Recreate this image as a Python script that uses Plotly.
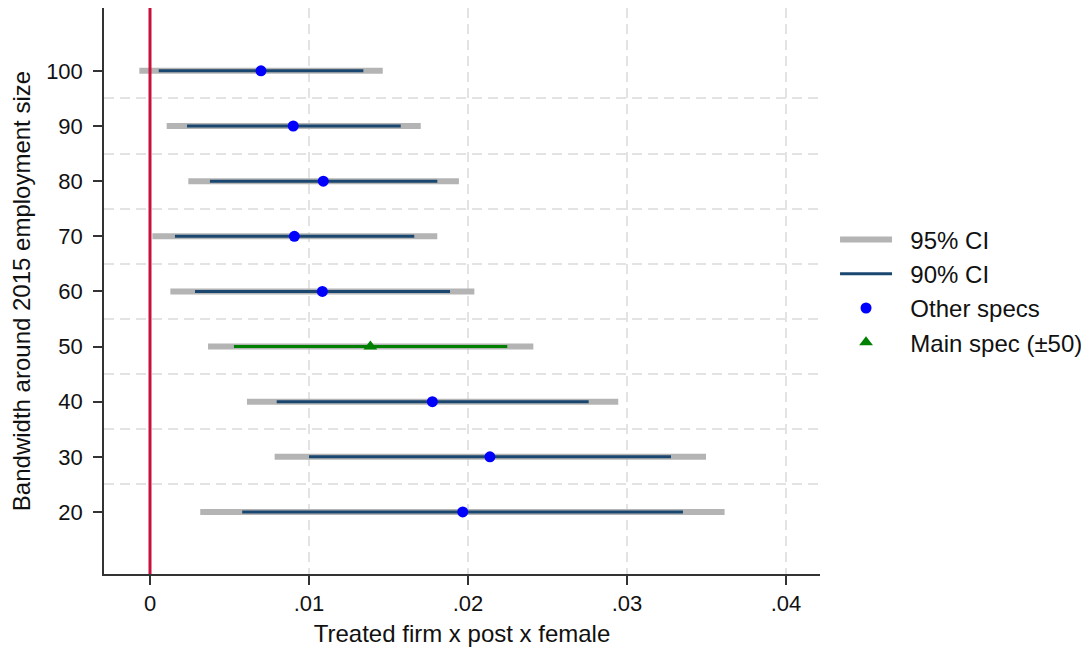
import plotly.graph_objects as go

# ---- data ----
bandwidth = [100, 90, 80, 70, 60, 50, 40, 30, 20]
coef      = [0.00698, 0.00901, 0.01090, 0.00908, 0.01084, 0.01386, 0.01776, 0.02138, 0.01967]
ci95_lo   = [-0.00067, 0.00105, 0.00241, 0.00015, 0.00128, 0.00365, 0.00610, 0.00784, 0.00316]
ci95_hi   = [0.01464, 0.01703, 0.01943, 0.01807, 0.02040, 0.02411, 0.02945, 0.03497, 0.03614]
ci90_lo   = [0.00055, 0.00233, 0.00377, 0.00157, 0.00283, 0.00528, 0.00797, 0.01000, 0.00580]
ci90_hi   = [0.01342, 0.01577, 0.01807, 0.01662, 0.01887, 0.02247, 0.02759, 0.03277, 0.03352]
main_bw = 50

x_ticks = [0, 0.01, 0.02, 0.03, 0.04]
x_ticklabels = ["0", ".01", ".02", ".03", ".04"]
y_ticks = [20, 30, 40, 50, 60, 70, 80, 90, 100]
y_grid = [25, 35, 45, 55, 65, 75, 85, 95]

GRAY = "#b4b4b4"
NAVY = "#1a476f"
GREEN = "#008000"
BLUE = "#0000ff"
RED = "#c8103c"
FONT = "Liberation Sans, Arial, sans-serif"
PAD = "\u00a0\u00a0"


def segs(lo, hi, ys):
    xs, yy = [], []
    for a, b, y in zip(lo, hi, ys):
        xs += [a, b, None]
        yy += [y, y, None]
    return xs, yy


fig = go.Figure()

x95, y95 = segs(ci95_lo, ci95_hi, bandwidth)
fig.add_trace(go.Scatter(x=x95, y=y95, mode="lines", name=PAD + "95% CI",
                         line=dict(color=GRAY, width=6), legendgroup="a"))

oth = [i for i, b in enumerate(bandwidth) if b != main_bw]
mn = [i for i, b in enumerate(bandwidth) if b == main_bw]

x90, y90 = segs([ci90_lo[i] for i in oth], [ci90_hi[i] for i in oth], [bandwidth[i] for i in oth])
fig.add_trace(go.Scatter(x=x90, y=y90, mode="lines", name=PAD + "90% CI",
                         line=dict(color=NAVY, width=3), legendgroup="b"))

x90m, y90m = segs([ci90_lo[i] for i in mn], [ci90_hi[i] for i in mn], [bandwidth[i] for i in mn])
fig.add_trace(go.Scatter(x=x90m, y=y90m, mode="lines", showlegend=False,
                         line=dict(color=GREEN, width=3)))

fig.add_trace(go.Scatter(x=[coef[i] for i in oth], y=[bandwidth[i] for i in oth],
                         mode="markers", name=PAD + "Other specs", legendgroup="c",
                         marker=dict(color=BLUE, size=11, symbol="circle")))
fig.add_trace(go.Scatter(x=[coef[i] for i in mn], y=[bandwidth[i] for i in mn],
                         mode="markers", name=PAD + "Main spec (±50)", legendgroup="d",
                         marker=dict(color=GREEN, size=12, symbol="triangle-up")))

fig.add_shape(type="line", xref="x", yref="paper", x0=0, x1=0, y0=0, y1=1,
              line=dict(color=RED, width=3), layer="above")

fig.update_layout(
    width=1089, height=650,
    margin=dict(l=96, r=277, t=0, b=84, autoexpand=False),
    paper_bgcolor="white", plot_bgcolor="white",
    font=dict(family=FONT, size=22, color="#111111"),
    showlegend=True,
    legend=dict(x=1.021, y=0.5, xanchor="left", yanchor="middle",
                font=dict(size=24, family=FONT, color="#111111"),
                itemwidth=52, tracegroupgap=0, bgcolor="rgba(0,0,0,0)"),
    xaxis=dict(range=[-0.002893, 0.04214], tickmode="array", tickvals=x_ticks,
               ticktext=x_ticklabels, ticks="outside", ticklen=9, tickwidth=1.5,
               tickcolor="#333333", showline=True, linecolor="#333333", linewidth=1.5,
               showgrid=True, gridcolor="#e3e3e3", gridwidth=1.5, griddash="10px,6px",
               zeroline=False, tickfont=dict(size=22),
               title=dict(text="Treated firm x post x female", font=dict(size=24), standoff=10)),
    yaxis=dict(range=[8.75, 111.4], tickmode="array", tickvals=y_ticks,
               ticks="outside", ticklen=9, tickwidth=1.5, tickcolor="#333333",
               showline=True, linecolor="#333333", linewidth=1.5,
               showgrid=False, zeroline=False, tickfont=dict(size=22),
               ticklabelstandoff=6,
               minor=dict(tickvals=y_grid, showgrid=True, gridcolor="#e3e3e3",
                          gridwidth=1.5, griddash="10px,6px", ticks=""),
               title=dict(text="Bandwidth around 2015 employment size",
                          font=dict(size=24), standoff=12)),
)

fig.write_html("out.html")
